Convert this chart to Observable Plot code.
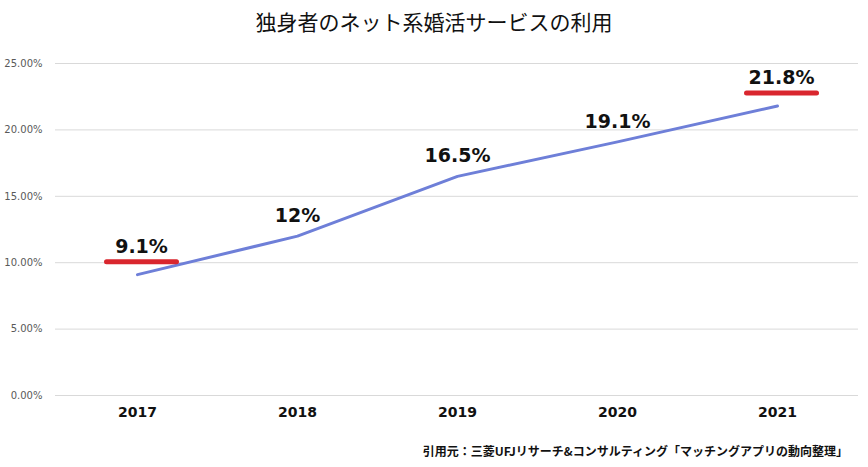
<!DOCTYPE html>
<html>
<head>
<meta charset="utf-8">
<script src="https://cdn.jsdelivr.net/npm/d3@7"></script>
<script src="https://cdn.jsdelivr.net/npm/@observablehq/plot@0.6"></script>
<style>
  body { margin: 0; background: #fff; width: 868px; height: 467px; overflow: hidden; }
  #title { height: 44px; line-height: 42px; text-align: center; font-family: "Noto Sans CJK JP", sans-serif; font-size: 21px; color: #111; }
  #chart svg { display: block; }
  #caption { height: 14px; line-height: 14px; text-align: right; padding-right: 20px; font-family: "Noto Sans CJK JP", sans-serif; font-weight: bold; font-size: 12px; color: #111; }
</style>
</head>
<body>
<div id="title">独身者のネット系婚活サービスの利用</div>
<div id="chart"></div>
<div id="caption">引用元：三菱UFJリサーチ&amp;コンサルティング「マッチングアプリの動向整理」</div>
<script>
const years = ["2017", "2018", "2019", "2020", "2021"];
const values = [9.1, 12, 16.5, 19.1, 21.8];
const labels = ["9.1%", "12%", "16.5%", "19.1%", "21.8%"];
const highlighted = ["2017", "2021"];
const yTicks = [0, 5, 10, 15, 20, 25];

const data = years.map((y, i) => ({year: y, value: values[i], label: labels[i], hl: highlighted.includes(y)}));
const normal = data.filter(d => !d.hl);
const hl = data.filter(d => d.hl);

// horizontal underline symbol
const underline = {draw(context) { context.moveTo(-35, 0); context.lineTo(35, 0); }};

const chart = Plot.plot({
  width: 868,
  height: 400,
  marginTop: 19,
  marginBottom: 49,
  marginLeft: 55,
  marginRight: 10,
  style: {background: "#fff", overflow: "visible"},
  x: {type: "point", domain: years, padding: 0.5, label: null},
  y: {domain: [0, 25], label: null},
  marks: [
    Plot.ruleY(yTicks, {stroke: "#d9d9d9", strokeWidth: 1}),
    Plot.axisY({ticks: yTicks, tickSize: 0, tickPadding: 13, tickFormat: d => d.toFixed(2) + "%",
      fontSize: 10, fill: "#595959", fontFamily: "DejaVu Sans, sans-serif", label: null}),
    Plot.axisX({tickSize: 0, tickPadding: 12, fontSize: 14, fontWeight: "bold", fill: "#111",
      fontFamily: "DejaVu Sans, sans-serif", label: null}),
    Plot.line(data, {x: "year", y: "value", stroke: "#6e7fd8", strokeWidth: 3}),
    Plot.text(normal, {x: "year", y: "value", text: "label", dy: -20, fontSize: 19, fontWeight: "bold",
      fill: "#111", fontFamily: "DejaVu Sans, sans-serif"}),
    Plot.dot(hl, {x: "year", y: "value", dx: 4, dy: -13, symbol: underline, fill: "none",
      stroke: "#d9262e", strokeWidth: 5, strokeLinecap: "round"}),
    Plot.text(hl, {x: "year", y: "value", text: "label", dx: 4, dy: -28, fontSize: 19, fontWeight: "bold",
      fill: "#111", fontFamily: "DejaVu Sans, sans-serif"})
  ]
});
document.getElementById("chart").appendChild(chart);
</script>
</body>
</html>
